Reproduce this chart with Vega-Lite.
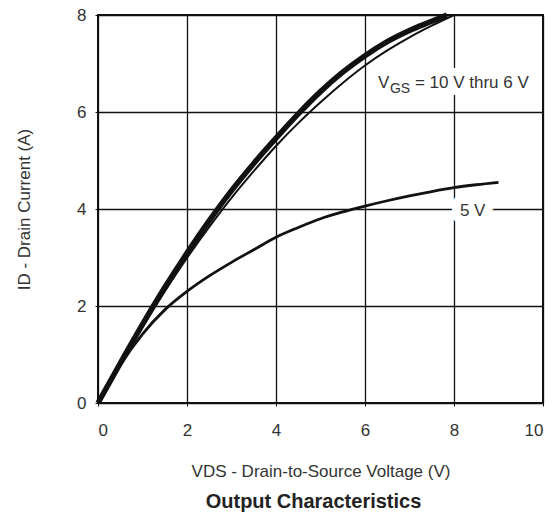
{
  "$schema": "https://vega.github.io/schema/vega-lite/v6.json",
  "autosize": {"type": "none"},
  "padding": {"left": 98, "top": 15, "right": 11, "bottom": 115},
  "width": 445,
  "height": 388,
  "background": "white",
  "title": {"text": "Output Characteristics", "orient": "bottom", "anchor": "middle", "font": "Liberation Sans", "fontSize": 20, "fontWeight": "bold", "color": "#222", "offset": 13, "dx": -7},
  "config": {
    "view": {"stroke": "#111", "strokeWidth": 2},
    "axis": {"grid": true, "gridColor": "#111", "gridWidth": 1.3, "gridOpacity": 1, "domain": false, "ticks": true, "tickColor": "#111", "tickSize": 3, "labelFont": "Liberation Sans", "labelFontSize": 17, "labelColor": "#333", "titleFont": "Liberation Sans", "titleFontSize": 17, "titleFontWeight": "normal", "titleColor": "#333"}
  },
  "datasets": {
    "curves": [
      {"vds": 0, "id": 0, "series": "10 V thru 7 V"},
      {"vds": 0.5, "id": 0.82, "series": "10 V thru 7 V"},
      {"vds": 1, "id": 1.62, "series": "10 V thru 7 V"},
      {"vds": 1.5, "id": 2.38, "series": "10 V thru 7 V"},
      {"vds": 2, "id": 3.09, "series": "10 V thru 7 V"},
      {"vds": 2.5, "id": 3.76, "series": "10 V thru 7 V"},
      {"vds": 3, "id": 4.38, "series": "10 V thru 7 V"},
      {"vds": 3.5, "id": 4.94, "series": "10 V thru 7 V"},
      {"vds": 4, "id": 5.46, "series": "10 V thru 7 V"},
      {"vds": 4.5, "id": 5.96, "series": "10 V thru 7 V"},
      {"vds": 5, "id": 6.42, "series": "10 V thru 7 V"},
      {"vds": 5.5, "id": 6.82, "series": "10 V thru 7 V"},
      {"vds": 6, "id": 7.16, "series": "10 V thru 7 V"},
      {"vds": 6.5, "id": 7.45, "series": "10 V thru 7 V"},
      {"vds": 7, "id": 7.68, "series": "10 V thru 7 V"},
      {"vds": 7.5, "id": 7.87, "series": "10 V thru 7 V"},
      {"vds": 7.84, "id": 8.0, "series": "10 V thru 7 V"},
      {"vds": 0, "id": 0, "series": "6 V"},
      {"vds": 0.5, "id": 0.8, "series": "6 V"},
      {"vds": 1, "id": 1.57, "series": "6 V"},
      {"vds": 1.5, "id": 2.3, "series": "6 V"},
      {"vds": 2, "id": 2.99, "series": "6 V"},
      {"vds": 2.5, "id": 3.63, "series": "6 V"},
      {"vds": 3, "id": 4.23, "series": "6 V"},
      {"vds": 3.5, "id": 4.78, "series": "6 V"},
      {"vds": 4, "id": 5.3, "series": "6 V"},
      {"vds": 4.5, "id": 5.77, "series": "6 V"},
      {"vds": 5, "id": 6.2, "series": "6 V"},
      {"vds": 5.5, "id": 6.6, "series": "6 V"},
      {"vds": 6, "id": 6.96, "series": "6 V"},
      {"vds": 6.5, "id": 7.27, "series": "6 V"},
      {"vds": 7, "id": 7.54, "series": "6 V"},
      {"vds": 7.5, "id": 7.78, "series": "6 V"},
      {"vds": 8, "id": 8.0, "series": "6 V"},
      {"vds": 0, "id": 0, "series": "5 V"},
      {"vds": 0.5, "id": 0.78, "series": "5 V"},
      {"vds": 1, "id": 1.42, "series": "5 V"},
      {"vds": 1.5, "id": 1.92, "series": "5 V"},
      {"vds": 2, "id": 2.3, "series": "5 V"},
      {"vds": 2.5, "id": 2.62, "series": "5 V"},
      {"vds": 3, "id": 2.9, "series": "5 V"},
      {"vds": 3.5, "id": 3.16, "series": "5 V"},
      {"vds": 4, "id": 3.42, "series": "5 V"},
      {"vds": 4.5, "id": 3.62, "series": "5 V"},
      {"vds": 5, "id": 3.8, "series": "5 V"},
      {"vds": 5.5, "id": 3.94, "series": "5 V"},
      {"vds": 6, "id": 4.06, "series": "5 V"},
      {"vds": 6.5, "id": 4.17, "series": "5 V"},
      {"vds": 7, "id": 4.27, "series": "5 V"},
      {"vds": 7.5, "id": 4.36, "series": "5 V"},
      {"vds": 8, "id": 4.44, "series": "5 V"},
      {"vds": 8.5, "id": 4.5, "series": "5 V"},
      {"vds": 9, "id": 4.55, "series": "5 V"}
    ],
    "labels": [
      {"vds": 6.29, "id": 6.49, "label": "vgs"},
      {"vds": 8.42, "id": 3.95, "label": "5v"}
    ]
  },
  "encoding": {
    "x": {"field": "vds", "type": "quantitative", "scale": {"domain": [0, 10], "nice": false}, "axis": {"values": [0, 2, 4, 6, 8, 10], "title": "VDS - Drain-to-Source Voltage (V)", "labelPadding": 16, "titlePadding": 25}},
    "y": {"field": "id", "type": "quantitative", "scale": {"domain": [0, 8], "nice": false}, "axis": {"values": [0, 2, 4, 6, 8], "title": "ID - Drain Current (A)", "labelPadding": 9, "titlePadding": 43}}
  },
  "layer": [
    {
      "data": {"name": "labels"},
      "transform": [{"filter": "datum.label === 'vgs'"}],
      "mark": {"type": "text", "text": "V", "align": "left", "baseline": "alphabetic", "font": "Liberation Sans", "fontSize": 17, "fill": "white", "stroke": "white", "strokeWidth": 16, "strokeJoin": "round"}
    },
    {
      "data": {"name": "labels"},
      "transform": [{"filter": "datum.label === 'vgs'"}],
      "mark": {"type": "text", "text": "GS", "align": "left", "baseline": "alphabetic", "dx": 12, "dy": 5, "font": "Liberation Sans", "fontSize": 14, "fill": "white", "stroke": "white", "strokeWidth": 16, "strokeJoin": "round"}
    },
    {
      "data": {"name": "labels"},
      "transform": [{"filter": "datum.label === 'vgs'"}],
      "mark": {"type": "text", "text": "= 10 V thru 6 V", "align": "left", "baseline": "alphabetic", "dx": 37, "font": "Liberation Sans", "fontSize": 17, "fill": "white", "stroke": "white", "strokeWidth": 16, "strokeJoin": "round"}
    },
    {
      "data": {"name": "labels"},
      "transform": [{"filter": "datum.label === '5v'"}],
      "mark": {"type": "text", "text": "5 V", "align": "center", "baseline": "middle", "font": "Liberation Sans", "fontSize": 17, "fill": "white", "stroke": "white", "strokeWidth": 18, "strokeJoin": "round"}
    },
    {
      "data": {"name": "curves"},
      "transform": [{"filter": "datum.series === '10 V thru 7 V'"}],
      "mark": {"type": "line", "interpolate": "monotone", "color": "#111", "strokeWidth": 5.5}
    },
    {
      "data": {"name": "curves"},
      "transform": [{"filter": "datum.series === '6 V'"}],
      "mark": {"type": "line", "interpolate": "monotone", "color": "#111", "strokeWidth": 2}
    },
    {
      "data": {"name": "curves"},
      "transform": [{"filter": "datum.series === '5 V'"}],
      "mark": {"type": "line", "interpolate": "monotone", "color": "#111", "strokeWidth": 2.8}
    },
    {
      "data": {"name": "labels"},
      "transform": [{"filter": "datum.label === 'vgs'"}],
      "mark": {"type": "text", "text": "V", "align": "left", "baseline": "alphabetic", "font": "Liberation Sans", "fontSize": 17, "fill": "#333"}
    },
    {
      "data": {"name": "labels"},
      "transform": [{"filter": "datum.label === 'vgs'"}],
      "mark": {"type": "text", "text": "GS", "align": "left", "baseline": "alphabetic", "dx": 12, "dy": 5, "font": "Liberation Sans", "fontSize": 14, "fill": "#333"}
    },
    {
      "data": {"name": "labels"},
      "transform": [{"filter": "datum.label === 'vgs'"}],
      "mark": {"type": "text", "text": "= 10 V thru 6 V", "align": "left", "baseline": "alphabetic", "dx": 37, "font": "Liberation Sans", "fontSize": 17, "fill": "#333"}
    },
    {
      "data": {"name": "labels"},
      "transform": [{"filter": "datum.label === '5v'"}],
      "mark": {"type": "text", "text": "5 V", "align": "center", "baseline": "middle", "font": "Liberation Sans", "fontSize": 17, "fill": "#333"}
    }
  ]
}
